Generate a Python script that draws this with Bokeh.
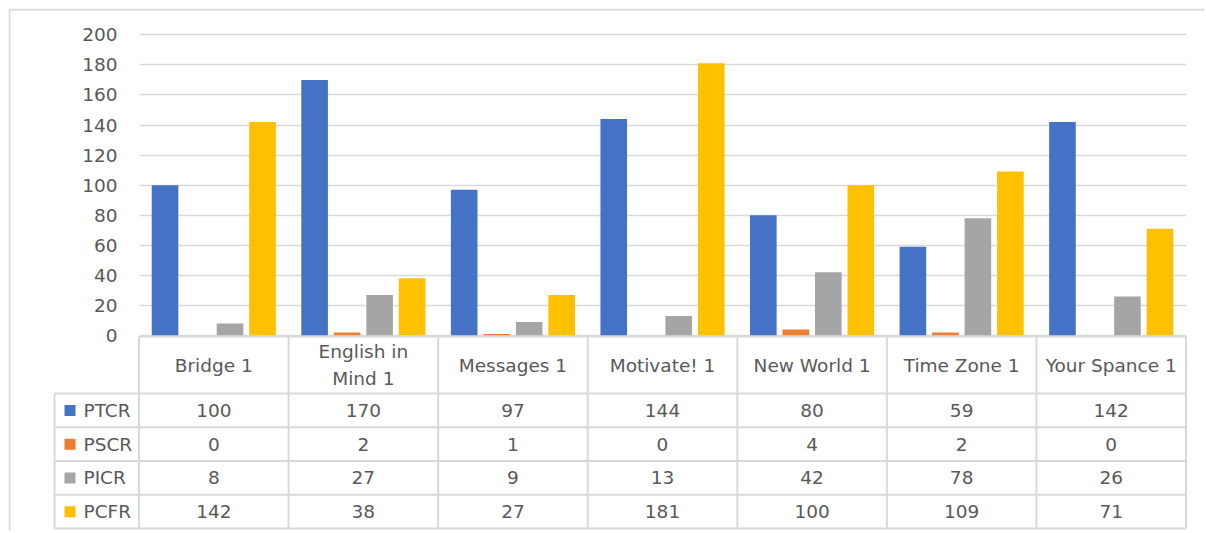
from bokeh.plotting import figure
from bokeh.models import ColumnDataSource, Range1d, FixedTicker
from bokeh.transform import dodge
from bokeh.core.properties import value
from bokeh.embed import file_html
from bokeh.resources import INLINE

# ---------------- data ----------------
categories = ["Bridge 1", "English in Mind 1", "Messages 1", "Motivate! 1",
              "New World 1", "Time Zone 1", "Your Spance 1"]
header_labels = ["Bridge 1", "English in\nMind 1", "Messages 1", "Motivate! 1",
                 "New World 1", "Time Zone 1", "Your Spance 1"]
series_names = ["PTCR", "PSCR", "PICR", "PCFR"]
ptcr = [100, 170, 97, 144, 80, 59, 142]
pscr = [0, 2, 1, 0, 4, 2, 0]
picr = [8, 27, 9, 13, 42, 78, 26]
pcfr = [142, 38, 27, 181, 100, 109, 71]
series_values = [ptcr, pscr, picr, pcfr]
series_colors = ["#4472C4", "#ED7D31", "#A5A5A5", "#FFC000"]
y_ticks = [0, 20, 40, 60, 80, 100, 120, 140, 160, 180, 200]

FONT = "DejaVu Sans"
TXT = "#595959"
GRID = "#d9d9d9"
FS = "18.5px"

# ---------------- geometry (page pixels) ----------------
W, H = 1204, 531
FL, FR, FT, FB = 8, 1204, 8, 530          # frame edges
n = len(categories)
X0_PAGE, XN_PAGE = 138.5, 1185.5          # plot area left / right
Y0_PAGE, YTOP_PAGE = 335.0, 34.3          # value 0 / value 200
PX = (XN_PAGE - X0_PAGE) / n
PY = (Y0_PAGE - YTOP_PAGE) / 200.0

x_range = Range1d((FL - X0_PAGE) / PX, (FR - X0_PAGE) / PX)
y_range = Range1d(-(FB - Y0_PAGE) / PY, (Y0_PAGE - FT) / PY)

p = figure(width=W, height=H, x_range=x_range, y_range=y_range,
           min_border_left=FL, min_border_right=W - FR,
           min_border_top=FT, min_border_bottom=H - FB,
           x_axis_location=None, y_axis_location="left",
           output_backend="svg", toolbar_location=None)
p.outline_line_color = None
p.extra_y_ranges = {"tbl": Range1d(start=FB - Y0_PAGE, end=FT - Y0_PAGE)}

# y axis (labels pulled inside to sit left of the plot area)
p.yaxis.ticker = FixedTicker(ticks=y_ticks)
p.yaxis.axis_line_color = None
p.yaxis.major_tick_line_color = None
p.yaxis.minor_tick_line_color = None
p.yaxis.major_tick_in = 0
p.yaxis.major_tick_out = 0
p.yaxis.major_label_standoff = -int(117 - FL)
p.yaxis.major_label_text_font = FONT
p.yaxis.major_label_text_font_size = FS
p.yaxis.major_label_text_color = TXT

p.xgrid.grid_line_color = None
g = p.ygrid[0]
g.grid_line_color = GRID
g.grid_line_width = 1.6
if "cross_bounds" in g.properties():
    g.cross_bounds = (0, n)
else:
    g.grid_line_color = None
    p.segment(x0=[0] * len(y_ticks), y0=y_ticks, x1=[n] * len(y_ticks), y1=y_ticks,
              line_color=GRID, line_width=1.6)

# bars
xc = [i + 0.5 for i in range(n)]
step = 0.2173
bw = 0.178
for i, (name, vals, col) in enumerate(zip(series_names, series_values, series_colors)):
    src = ColumnDataSource(dict(xc=xc, val=vals))
    p.vbar(x=dodge("xc", (i - 1.5) * step), top="val", width=bw, bottom=0,
           source=src, fill_color=col, line_color=None)

# ---------------- data table ----------------
HEAD_H = 57.0
ROW_H = 33.75
TOP = 1.0
LEG_X = (54 - X0_PAGE) / PX

row_lines_y = [TOP + HEAD_H + k * ROW_H for k in range(len(series_names) + 1)]
bottom = row_lines_y[-1]
hx0 = [0] + [LEG_X] * len(row_lines_y)
hx1 = [n] * (1 + len(row_lines_y))
hy = [TOP] + row_lines_y
p.segment(x0=hx0, y0=hy, x1=hx1, y1=hy, line_color=GRID, line_width=2, y_range_name="tbl")
vx = [LEG_X] + list(range(n + 1))
vy0 = [row_lines_y[0]] + [TOP] * (n + 1)
vy1 = [bottom] * (n + 2)
p.segment(x0=vx, y0=vy0, x1=vx, y1=vy1, line_color=GRID, line_width=2, y_range_name="tbl")

# outer chart border (top and left edges visible)
bx = (9 - X0_PAGE) / PX
by = 9 - Y0_PAGE
p.segment(x0=[bx, bx], y0=[by, by], x1=[x_range.end, bx], y1=[by, FB - Y0_PAGE],
          line_color=GRID, line_width=2, y_range_name="tbl")

p.text(x=xc, y=[TOP + HEAD_H / 2] * n, text=header_labels,
       text_font=value(FONT), text_font_size=FS, text_color=TXT,
       text_align="center", text_baseline="middle", text_line_height=1.3,
       y_range_name="tbl")

for r, (name, vals, col) in enumerate(zip(series_names, series_values, series_colors)):
    yc = row_lines_y[r] + ROW_H / 2
    p.scatter(x=[(69.5 - X0_PAGE) / PX], y=[yc], marker="square", size=11,
              fill_color=col, line_color=None, y_range_name="tbl")
    p.text(x=[(83 - X0_PAGE) / PX], y=[yc], text=[name], text_font=value(FONT),
           text_font_size=FS, text_color=TXT, text_align="left", text_baseline="middle",
           y_range_name="tbl")
    p.text(x=xc, y=[yc] * n, text=[str(v) for v in vals], text_font=value(FONT),
           text_font_size=FS, text_color=TXT, text_align="center", text_baseline="middle",
           y_range_name="tbl")

open("out.html", "w").write(file_html(p, INLINE))
